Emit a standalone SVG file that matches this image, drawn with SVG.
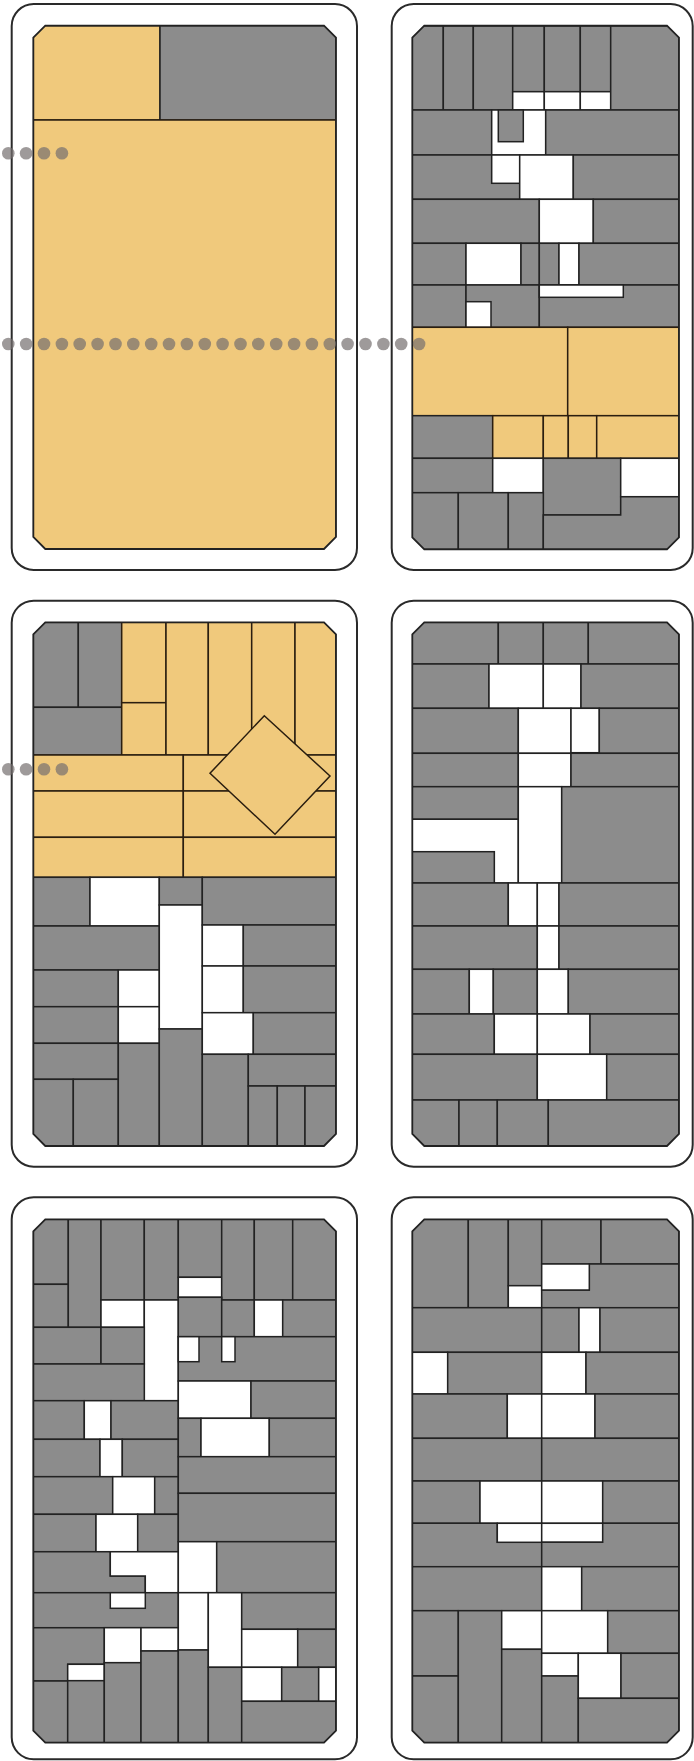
<svg xmlns="http://www.w3.org/2000/svg" width="694" height="1761" viewBox="0 0 694 1761">
<style>
.frame{fill:#fff;stroke:#2a2a2a;stroke-width:2}
.oct{fill:none;stroke:#222;stroke-width:1.8}
.g{fill:#8c8c8c;stroke:#222;stroke-width:1.5}
.y{fill:#f0c97c;stroke:#2a1e10;stroke-width:1.5}
.w{fill:#fff;stroke:#222;stroke-width:1.5}
.dot{fill:#756f6f;fill-opacity:.7}
</style>
<defs>
<clipPath id="c1"><path d="M45.3,25.7 H324 L336,37.7 V537 L324,549 H45.3 L33.3,537 V37.7 Z"/></clipPath>
<clipPath id="c2"><path d="M424.3,25.7 H667 L679,37.7 V537.3 L667,549.3 H424.3 L412.3,537.3 V37.7 Z"/></clipPath>
<clipPath id="c3"><path d="M45.3,622.3 H324 L336,634.3 V1134 L324,1146 H45.3 L33.3,1134 V634.3 Z"/></clipPath>
<clipPath id="c4"><path d="M424.3,622.3 H667 L679,634.3 V1134 L667,1146 H424.3 L412.3,1134 V634.3 Z"/></clipPath>
<clipPath id="c5"><path d="M45.3,1219.3 H324 L336,1231.3 V1730.7 L324,1742.7 H45.3 L33.3,1730.7 V1231.3 Z"/></clipPath>
<clipPath id="c6"><path d="M424.3,1219.3 H667 L679,1231.3 V1730.7 L667,1742.7 H424.3 L412.3,1730.7 V1231.3 Z"/></clipPath>
</defs>

<g id="panel1">
<rect class="frame" x="11.7" y="4" width="345.3" height="566" rx="22"/>
<g clip-path="url(#c1)">
<rect class="y" x="33.3" y="25.7" width="126.7" height="94.3"/>
<rect class="g" x="160" y="25.7" width="176" height="94.3"/>
<rect class="y" x="33.3" y="120" width="302.7" height="429"/>
</g>
<path class="oct" d="M45.3,25.7 H324 L336,37.7 V537 L324,549 H45.3 L33.3,537 V37.7 Z"/>
</g>

<g id="panel2">
<rect class="frame" x="391.7" y="4" width="301" height="566" rx="22"/>
<g clip-path="url(#c2)">
<rect class="g" x="412" y="26" width="31.3" height="84"/>
<rect class="g" x="443.3" y="26" width="30" height="84"/>
<rect class="g" x="473.3" y="26" width="39.4" height="84"/>
<rect class="g" x="512.7" y="26" width="31.6" height="65.7"/>
<rect class="w" x="512.7" y="91.7" width="31.6" height="18.3"/>
<rect class="g" x="544.3" y="26" width="36" height="65.7"/>
<rect class="w" x="544.3" y="91.7" width="36" height="18.3"/>
<rect class="g" x="580.3" y="26" width="30.4" height="65.7"/>
<rect class="w" x="580.3" y="91.7" width="30.4" height="18.3"/>
<rect class="g" x="610.7" y="26" width="68.3" height="84"/>
<rect class="g" x="412" y="110" width="79.7" height="45"/>
<rect class="w" x="491.7" y="110" width="54" height="45"/>
<rect class="g" x="498.3" y="110" width="25" height="31.7"/>
<rect class="g" x="545.7" y="110" width="133.3" height="45"/>
<polygon class="g" points="412,155 491.7,155 491.7,183.3 519.7,183.3 519.7,199.3 412,199.3"/>
<rect class="w" x="491.7" y="155" width="28" height="28.3"/>
<rect class="w" x="519.7" y="155" width="53.6" height="44.3"/>
<rect class="g" x="573.3" y="155" width="105.7" height="44.3"/>
<rect class="g" x="412" y="199.3" width="127.3" height="44"/>
<rect class="w" x="539.3" y="199.3" width="54" height="44"/>
<rect class="g" x="593.3" y="199.3" width="85.7" height="44"/>
<rect class="g" x="412" y="243.3" width="54" height="41.7"/>
<rect class="w" x="466" y="243.3" width="55" height="41.7"/>
<rect class="g" x="521" y="243.3" width="18.3" height="41.7"/>
<rect class="g" x="539.3" y="243.3" width="19.7" height="41.7"/>
<rect class="w" x="559" y="243.3" width="20" height="41.7"/>
<rect class="g" x="579" y="243.3" width="100" height="41.7"/>
<rect class="g" x="412" y="285" width="54" height="42.3"/>
<rect class="g" x="466" y="285" width="73.3" height="42.3"/>
<rect class="w" x="466" y="301.7" width="25" height="25.6"/>
<rect class="g" x="539.3" y="285" width="139.7" height="42.3"/>
<rect class="w" x="539.3" y="285" width="84" height="12.3"/>
<rect class="y" x="412" y="327.3" width="155.7" height="88.4"/>
<rect class="y" x="567.7" y="327.3" width="111.3" height="88.4"/>
<rect class="g" x="412" y="415.7" width="80.7" height="42.6"/>
<rect class="y" x="492.7" y="415.7" width="50.6" height="42.6"/>
<rect class="y" x="543.3" y="415.7" width="25" height="42.6"/>
<rect class="y" x="568.3" y="415.7" width="28.4" height="42.6"/>
<rect class="y" x="596.7" y="415.7" width="82.3" height="42.6"/>
<rect class="g" x="412" y="458.3" width="80.7" height="34.4"/>
<rect class="w" x="492.7" y="458.3" width="50.6" height="34.4"/>
<rect class="g" x="543.3" y="458.3" width="77.4" height="56.7"/>
<rect class="w" x="620.7" y="458.3" width="58.3" height="38.4"/>
<rect class="g" x="412" y="492.7" width="46.3" height="56.6"/>
<rect class="g" x="458.3" y="492.7" width="50" height="56.6"/>
<rect class="g" x="508.3" y="492.7" width="35" height="56.6"/>
<polygon class="g" points="543.3,515 620.7,515 620.7,496.7 679,496.7 679,549.3 543.3,549.3"/>
</g>
<path class="oct" d="M424.3,25.7 H667 L679,37.7 V537.3 L667,549.3 H424.3 L412.3,537.3 V37.7 Z"/>
</g>

<g id="panel3">
<rect class="frame" x="11.7" y="600.7" width="345.3" height="566" rx="22"/>
<g clip-path="url(#c3)">
<rect class="g" x="33.3" y="622.3" width="45" height="85"/>
<rect class="g" x="78.3" y="622.3" width="43.4" height="85"/>
<rect class="g" x="33.3" y="707.3" width="88.4" height="47.7"/>
<rect class="y" x="121.7" y="622.3" width="44.3" height="80.4"/>
<rect class="y" x="121.7" y="702.7" width="44.3" height="52.3"/>
<rect class="y" x="166" y="622.3" width="42.3" height="132.7"/>
<rect class="y" x="208.3" y="622.3" width="43.4" height="132.7"/>
<rect class="y" x="251.7" y="622.3" width="43.3" height="132.7"/>
<rect class="y" x="295" y="622.3" width="41" height="132.7"/>
<rect class="y" x="33.3" y="755" width="150" height="36"/>
<rect class="y" x="183.3" y="755" width="152.7" height="36"/>
<rect class="y" x="33.3" y="791" width="150" height="46.3"/>
<rect class="y" x="183.3" y="791" width="152.7" height="46.3"/>
<rect class="y" x="33.3" y="837.3" width="150" height="40"/>
<rect class="y" x="183.3" y="837.3" width="152.7" height="40"/>
<polygon class="y" points="264.3,715.7 330,776 275,834.3 210,773.3"/>
<rect class="g" x="33.3" y="877.3" width="56.7" height="48.7"/>
<rect class="w" x="90" y="877.3" width="69.3" height="48.7"/>
<rect class="g" x="33.3" y="926" width="126" height="44"/>
<rect class="g" x="33.3" y="970" width="85" height="36.7"/>
<rect class="w" x="118.3" y="970" width="41" height="36.7"/>
<rect class="g" x="33.3" y="1006.7" width="85" height="36.6"/>
<rect class="w" x="118.3" y="1006.7" width="41" height="36.6"/>
<rect class="g" x="33.3" y="1043.3" width="85" height="36"/>
<rect class="g" x="33.3" y="1079.3" width="40" height="66.7"/>
<rect class="g" x="73.3" y="1079.3" width="45" height="66.7"/>
<rect class="g" x="118.3" y="1043.3" width="41" height="102.7"/>
<rect class="g" x="159.3" y="877.3" width="43" height="27.7"/>
<rect class="w" x="159.3" y="905" width="43" height="124"/>
<rect class="g" x="159.3" y="1029" width="43" height="117"/>
<rect class="g" x="202.3" y="877.3" width="133.7" height="47.7"/>
<rect class="w" x="202.3" y="925" width="41" height="41"/>
<rect class="g" x="243.3" y="925" width="92.7" height="41"/>
<rect class="w" x="202.3" y="966" width="41" height="46.7"/>
<rect class="g" x="243.3" y="966" width="92.7" height="46.7"/>
<rect class="w" x="202.3" y="1012.7" width="51" height="41.6"/>
<rect class="g" x="253.3" y="1012.7" width="82.7" height="41.6"/>
<rect class="g" x="202.3" y="1054.3" width="46" height="91.7"/>
<rect class="g" x="248.3" y="1054.3" width="87.7" height="31.7"/>
<rect class="g" x="248.3" y="1086" width="29" height="60"/>
<rect class="g" x="277.3" y="1086" width="27.7" height="60"/>
<rect class="g" x="305" y="1086" width="31" height="60"/>
</g>
<path class="oct" d="M45.3,622.3 H324 L336,634.3 V1134 L324,1146 H45.3 L33.3,1134 V634.3 Z"/>
</g>

<g id="panel4">
<rect class="frame" x="391.7" y="600.7" width="301" height="566" rx="22"/>
<g clip-path="url(#c4)">
<rect class="g" x="412" y="622.3" width="86.3" height="41.7"/>
<rect class="g" x="498.3" y="622.3" width="45" height="41.7"/>
<rect class="g" x="543.3" y="622.3" width="45" height="41.7"/>
<rect class="g" x="588.3" y="622.3" width="90.7" height="41.7"/>
<rect class="g" x="412" y="664" width="77" height="44.3"/>
<rect class="w" x="489" y="664" width="54.3" height="44.3"/>
<rect class="w" x="543.3" y="664" width="37.7" height="44.3"/>
<rect class="g" x="581" y="664" width="98" height="44.3"/>
<rect class="g" x="412" y="708.3" width="106.3" height="45"/>
<rect class="w" x="518.3" y="708.3" width="52.7" height="45"/>
<rect class="w" x="571" y="708.3" width="28.3" height="44.4"/>
<rect class="g" x="599.3" y="708.3" width="79.7" height="45"/>
<rect class="g" x="412" y="753.3" width="106.3" height="33.4"/>
<rect class="w" x="518.3" y="753.3" width="52.7" height="33.4"/>
<rect class="g" x="571" y="753.3" width="108" height="33.4"/>
<rect class="g" x="412" y="786.7" width="106.3" height="32.6"/>
<polygon class="w" points="412,819.3 518.3,819.3 518.3,883 494.3,883 494.3,851.7 412,851.7"/>
<rect class="g" x="412" y="851.7" width="82.3" height="31.3"/>
<rect class="w" x="518.3" y="786.7" width="43.4" height="96.3"/>
<rect class="g" x="561.7" y="786.7" width="117.3" height="96.3"/>
<rect class="g" x="412" y="883" width="96.3" height="43"/>
<rect class="w" x="508.3" y="883" width="29" height="43"/>
<rect class="w" x="537.3" y="883" width="21.7" height="43"/>
<rect class="g" x="559" y="883" width="120" height="43"/>
<rect class="g" x="412" y="926" width="125.3" height="43.3"/>
<rect class="w" x="537.3" y="926" width="21.7" height="43.3"/>
<rect class="g" x="559" y="926" width="120" height="43.3"/>
<rect class="g" x="412" y="969.3" width="57.3" height="44.7"/>
<rect class="w" x="469.3" y="969.3" width="24" height="44.7"/>
<rect class="g" x="493.3" y="969.3" width="44" height="44.7"/>
<rect class="w" x="537.3" y="969.3" width="31" height="44.7"/>
<rect class="g" x="568.3" y="969.3" width="110.7" height="44.7"/>
<rect class="g" x="412" y="1014" width="82.3" height="40.3"/>
<rect class="w" x="494.3" y="1014" width="43" height="40.3"/>
<rect class="w" x="537.3" y="1014" width="52.7" height="40.3"/>
<rect class="g" x="590" y="1014" width="89" height="40.3"/>
<rect class="g" x="412" y="1054.3" width="125.3" height="45.7"/>
<rect class="w" x="537.3" y="1054.3" width="69.4" height="45.7"/>
<rect class="g" x="606.7" y="1054.3" width="72.3" height="45.7"/>
<rect class="g" x="412" y="1100" width="47" height="46"/>
<rect class="g" x="459" y="1100" width="38.3" height="46"/>
<rect class="g" x="497.3" y="1100" width="51" height="46"/>
<rect class="g" x="548.3" y="1100" width="130.7" height="46"/>
</g>
<path class="oct" d="M424.3,622.3 H667 L679,634.3 V1134 L667,1146 H424.3 L412.3,1134 V634.3 Z"/>
</g>

<g id="panel5">
<rect class="frame" x="11.7" y="1197.3" width="345.3" height="562" rx="22"/>
<g clip-path="url(#c5)">
<rect class="g" x="33.3" y="1219.3" width="35" height="65"/>
<rect class="g" x="33.3" y="1284.3" width="35" height="43"/>
<rect class="g" x="68.3" y="1219.3" width="32.7" height="108"/>
<rect class="g" x="101" y="1219.3" width="43.3" height="80.7"/>
<rect class="g" x="144.3" y="1219.3" width="34" height="80.7"/>
<rect class="g" x="178.3" y="1219.3" width="43.4" height="58"/>
<rect class="w" x="178.3" y="1277.3" width="43.4" height="20"/>
<rect class="g" x="221.7" y="1219.3" width="32.6" height="80.7"/>
<rect class="g" x="254.3" y="1219.3" width="38.4" height="80.7"/>
<rect class="g" x="292.7" y="1219.3" width="43.3" height="80.7"/>
<rect class="w" x="101" y="1300" width="43.3" height="27.3"/>
<rect class="w" x="144.3" y="1300" width="34" height="100.7"/>
<rect class="g" x="178.3" y="1297.3" width="43.4" height="39.4"/>
<rect class="g" x="221.7" y="1300" width="32.6" height="36.7"/>
<rect class="w" x="254.3" y="1300" width="28.4" height="36.7"/>
<rect class="g" x="282.7" y="1300" width="53.3" height="36.7"/>
<rect class="g" x="33.3" y="1327.3" width="67.7" height="36.7"/>
<rect class="g" x="101" y="1327.3" width="43.3" height="36.7"/>
<rect class="g" x="33.3" y="1364" width="111" height="36.7"/>
<rect class="g" x="33.3" y="1400.7" width="51" height="38.6"/>
<rect class="w" x="84.3" y="1400.7" width="26.7" height="38.6"/>
<rect class="g" x="111" y="1400.7" width="67.3" height="38.6"/>
<rect class="g" x="33.3" y="1439.3" width="66.7" height="37.4"/>
<rect class="w" x="100" y="1439.3" width="22.3" height="37.4"/>
<rect class="g" x="122.3" y="1439.3" width="56" height="37.4"/>
<rect class="g" x="33.3" y="1476.7" width="79.4" height="37.6"/>
<rect class="w" x="112.7" y="1476.7" width="42" height="37.6"/>
<rect class="g" x="154.7" y="1476.7" width="23.6" height="37.6"/>
<rect class="g" x="33.3" y="1514.3" width="62.7" height="37.4"/>
<rect class="w" x="96" y="1514.3" width="41.7" height="37.4"/>
<rect class="g" x="137.7" y="1514.3" width="40.6" height="37.4"/>
<polygon class="g" points="33.3,1551.7 110.3,1551.7 110.3,1576 145.3,1576 145.3,1592.7 33.3,1592.7"/>
<polygon class="w" points="110.3,1551.7 178.3,1551.7 178.3,1592.7 145.3,1592.7 145.3,1576 110.3,1576"/>
<rect class="g" x="33.3" y="1592.7" width="145" height="35"/>
<rect class="w" x="110.3" y="1592.7" width="35" height="15.6"/>
<polygon class="g" points="33.3,1627.7 104.3,1627.7 104.3,1664.3 67.7,1664.3 67.7,1681 33.3,1681"/>
<rect class="w" x="67.7" y="1664.3" width="36.6" height="16.4"/>
<rect class="g" x="33.3" y="1681" width="34.4" height="61.7"/>
<rect class="g" x="67.7" y="1680.7" width="36.6" height="62"/>
<rect class="w" x="104.3" y="1627.7" width="36.7" height="35"/>
<rect class="w" x="141" y="1627.7" width="37.3" height="23.3"/>
<rect class="g" x="104.3" y="1662.7" width="36.7" height="80"/>
<rect class="g" x="141" y="1651" width="37.3" height="91.7"/>
<rect class="g" x="178.3" y="1336.7" width="157.7" height="44.3"/>
<rect class="w" x="178.3" y="1336.7" width="20.7" height="25"/>
<rect class="w" x="221.7" y="1336.7" width="13.3" height="25"/>
<rect class="w" x="178.3" y="1381" width="72.7" height="37.3"/>
<rect class="g" x="251" y="1381" width="85" height="37.3"/>
<rect class="g" x="178.3" y="1418.3" width="22.7" height="38.4"/>
<rect class="w" x="201" y="1418.3" width="68.3" height="38.4"/>
<rect class="g" x="269.3" y="1418.3" width="66.7" height="38.4"/>
<rect class="g" x="178.3" y="1456.7" width="157.7" height="36.6"/>
<rect class="g" x="178.3" y="1493.3" width="157.7" height="48.4"/>
<rect class="w" x="178.3" y="1541.7" width="38.4" height="51"/>
<rect class="g" x="216.7" y="1541.7" width="119.3" height="51"/>
<rect class="w" x="178.3" y="1592.7" width="30" height="57.3"/>
<rect class="g" x="178.3" y="1650" width="30" height="92.7"/>
<rect class="w" x="208.3" y="1592.7" width="33.4" height="74.6"/>
<rect class="g" x="208.3" y="1667.3" width="33.4" height="75.4"/>
<rect class="g" x="241.7" y="1592.7" width="94.3" height="36.6"/>
<rect class="w" x="241.7" y="1629.3" width="56" height="38"/>
<rect class="g" x="297.7" y="1629.3" width="38.3" height="38"/>
<rect class="w" x="241.7" y="1667.3" width="40" height="34"/>
<rect class="g" x="281.7" y="1667.3" width="37" height="34"/>
<rect class="w" x="318.7" y="1667.3" width="17.3" height="34"/>
<rect class="g" x="241.7" y="1701.3" width="94.3" height="41.4"/>
</g>
<path class="oct" d="M45.3,1219.3 H324 L336,1231.3 V1730.7 L324,1742.7 H45.3 L33.3,1730.7 V1231.3 Z"/>
</g>

<g id="panel6">
<rect class="frame" x="391.7" y="1197.3" width="301" height="562" rx="22"/>
<g clip-path="url(#c6)">
<rect class="g" x="412" y="1219.3" width="56.3" height="88.4"/>
<rect class="g" x="468.3" y="1219.3" width="40" height="88.4"/>
<rect class="g" x="508.3" y="1219.3" width="33.4" height="66.4"/>
<rect class="w" x="508.3" y="1285.7" width="33.4" height="22"/>
<rect class="g" x="541.7" y="1219.3" width="59.3" height="44.7"/>
<rect class="g" x="601" y="1219.3" width="78" height="44.7"/>
<polygon class="g" points="589.3,1264 679,1264 679,1307.7 541.7,1307.7 541.7,1290 589.3,1290"/>
<rect class="w" x="541.7" y="1264" width="47.6" height="26"/>
<rect class="g" x="412" y="1307.7" width="129.7" height="44.6"/>
<rect class="g" x="541.7" y="1307.7" width="37.3" height="44.6"/>
<rect class="w" x="579" y="1307.7" width="21" height="44.6"/>
<rect class="g" x="600" y="1307.7" width="79" height="44.6"/>
<rect class="w" x="412" y="1352.3" width="35.7" height="41.7"/>
<rect class="g" x="447.7" y="1352.3" width="94" height="41.7"/>
<rect class="w" x="541.7" y="1352.3" width="44.3" height="41.7"/>
<rect class="g" x="586" y="1352.3" width="93" height="41.7"/>
<rect class="g" x="412" y="1394" width="95.3" height="44.3"/>
<rect class="w" x="507.3" y="1394" width="34.4" height="44.3"/>
<rect class="w" x="541.7" y="1394" width="53.3" height="44.3"/>
<rect class="g" x="595" y="1394" width="84" height="44.3"/>
<rect class="g" x="412" y="1438.3" width="129.7" height="42.7"/>
<rect class="g" x="541.7" y="1438.3" width="137.3" height="42.7"/>
<rect class="g" x="412" y="1481" width="68" height="42.3"/>
<rect class="w" x="480" y="1481" width="61.7" height="42.3"/>
<rect class="w" x="541.7" y="1481" width="61" height="42.3"/>
<rect class="g" x="602.7" y="1481" width="76.3" height="42.3"/>
<polygon class="g" points="412,1523.3 497.3,1523.3 497.3,1542.3 541.7,1542.3 541.7,1566.7 412,1566.7"/>
<rect class="w" x="497.3" y="1523.3" width="44.4" height="19"/>
<rect class="w" x="541.7" y="1523.3" width="61" height="19"/>
<polygon class="g" points="541.7,1542.3 602.7,1542.3 602.7,1523.3 679,1523.3 679,1566.7 541.7,1566.7"/>
<rect class="g" x="412" y="1566.7" width="129.7" height="44"/>
<rect class="w" x="541.7" y="1566.7" width="40" height="44"/>
<rect class="g" x="581.7" y="1566.7" width="97.3" height="44"/>
<rect class="g" x="412" y="1610.7" width="46.3" height="65.3"/>
<rect class="g" x="412" y="1676" width="46.3" height="66.7"/>
<rect class="g" x="458.3" y="1610.7" width="43.4" height="132"/>
<rect class="w" x="501.7" y="1610.7" width="40" height="38.6"/>
<rect class="g" x="501.7" y="1649.3" width="40" height="93.4"/>
<rect class="w" x="541.7" y="1610.7" width="66" height="42.6"/>
<rect class="g" x="607.7" y="1610.7" width="71.3" height="42.6"/>
<rect class="w" x="541.7" y="1653.3" width="36.6" height="22.7"/>
<rect class="g" x="541.7" y="1676" width="36.6" height="66.7"/>
<rect class="w" x="578.3" y="1653.3" width="42.7" height="45"/>
<rect class="g" x="621" y="1653.3" width="58" height="45"/>
<rect class="g" x="578.3" y="1698.3" width="100.7" height="44.4"/>
</g>
<path class="oct" d="M424.3,1219.3 H667 L679,1231.3 V1730.7 L667,1742.7 H424.3 L412.3,1730.7 V1231.3 Z"/>
</g>

<g id="connectors">
<g class="dot">
<circle cx="8.3" cy="153.3" r="6.3"/><circle cx="26.1" cy="153.3" r="6.3"/><circle cx="44" cy="153.3" r="6.3"/><circle cx="61.9" cy="153.3" r="6.3"/>
</g>
<g class="dot">
<circle cx="8.3" cy="344" r="6.3"/><circle cx="26.2" cy="344" r="6.3"/><circle cx="44" cy="344" r="6.3"/><circle cx="61.9" cy="344" r="6.3"/>
<circle cx="79.7" cy="344" r="6.3"/><circle cx="97.6" cy="344" r="6.3"/><circle cx="115.5" cy="344" r="6.3"/><circle cx="133.3" cy="344" r="6.3"/>
<circle cx="151.2" cy="344" r="6.3"/><circle cx="169" cy="344" r="6.3"/><circle cx="186.9" cy="344" r="6.3"/><circle cx="204.8" cy="344" r="6.3"/>
<circle cx="222.6" cy="344" r="6.3"/><circle cx="240.5" cy="344" r="6.3"/><circle cx="258.3" cy="344" r="6.3"/><circle cx="276.2" cy="344" r="6.3"/>
<circle cx="294.1" cy="344" r="6.3"/><circle cx="311.9" cy="344" r="6.3"/><circle cx="329.8" cy="344" r="6.3"/><circle cx="347.6" cy="344" r="6.3"/>
<circle cx="365.5" cy="344" r="6.3"/><circle cx="383.4" cy="344" r="6.3"/><circle cx="401.2" cy="344" r="6.3"/><circle cx="419.1" cy="344" r="6.3"/>
</g>
<g class="dot">
<circle cx="8.3" cy="769.3" r="6.3"/><circle cx="26.1" cy="769.3" r="6.3"/><circle cx="44" cy="769.3" r="6.3"/><circle cx="61.9" cy="769.3" r="6.3"/>
</g>
</g>
</svg>
